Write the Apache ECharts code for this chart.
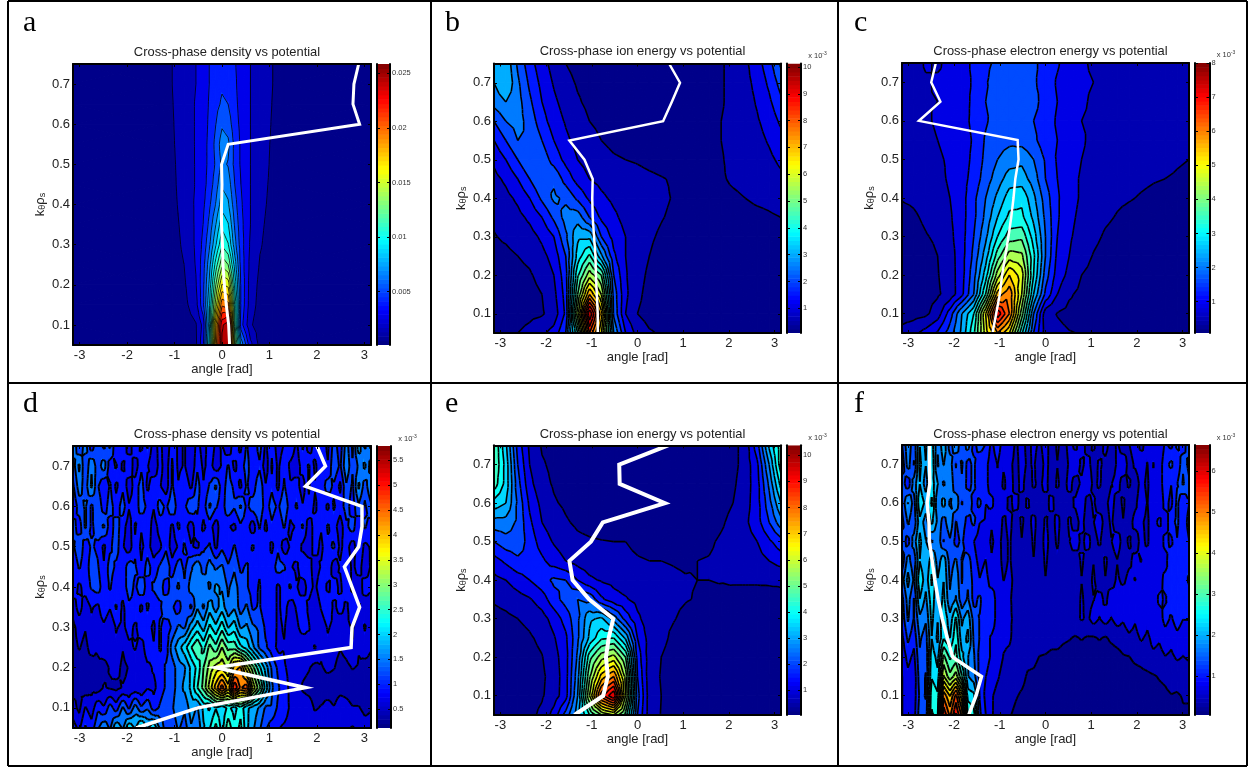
<!DOCTYPE html>
<html><head><meta charset="utf-8">
<style>html,body{margin:0;padding:0;background:#fff}#c{width:1248px;height:767px}</style>
<script src="https://cdn.jsdelivr.net/npm/echarts@6/dist/echarts.min.js"></script>
</head><body><div id="c"></div>
<script>
// ---------- data ----------
const kRows=[.75,.7,.65,.6,.55,.5,.45,.4,.35,.3,.25,.2,.15,.1,.05];
const anglesNarrow=[-3.14,-1.3,-1.05,-.8,-.55,-.4,-.27,-.13,0,.13,.27,.4,.6,.8,1.07,1.3,3.14];
const anglesFull=[-3.14,-2.88,-2.62,-2.36,-2.09,-1.83,-1.57,-1.31,-1.05,-.79,-.52,-.26,0,.26,.52,.79,1.05,1.31,1.57,1.83,2.09,2.36,2.62,2.88,3.14];
const anglesFine=[-3.14,-3.01,-2.88,-2.75,-2.62,-2.49,-2.36,-2.23,-2.09,-1.96,-1.83,-1.70,-1.57,-1.44,-1.31,-1.18,-1.05,-.92,-.79,-.65,-.52,-.39,-.26,-.13,0,.13,.26,.39,.52,.65,.79,.92,1.05,1.18,1.31,1.44,1.57,1.70,1.83,1.96,2.09,2.23,2.36,2.49,2.62,2.75,2.88,3.01,3.14];
const lineKs=[.75,.7,.65,.6,.55,.5,.45,.4,.35,.3,.25,.2,.15,.1,.05];

const densityA=[
[.4,.8,1.3,1.9,2.6,3.2,3.9,4.5,4.9,4.7,4.0,3.4,2.6,1.9,1.3,.8,.4],
[.4,.8,1.3,1.9,2.6,3.2,3.9,4.6,5.0,4.8,4.1,3.4,2.6,1.9,1.3,.8,.4],
[.4,.8,1.25,1.9,2.7,3.3,4.0,4.8,5.4,5.2,4.2,3.5,2.6,1.9,1.25,.8,.4],
[.4,.75,1.2,1.9,2.7,3.3,4.1,5.2,6.3,5.9,4.4,3.6,2.6,1.9,1.2,.75,.4],
[.4,.7,1.15,1.9,2.7,3.4,4.2,5.6,7.2,6.8,4.8,3.7,2.6,1.8,1.15,.7,.4],
[.4,.7,1.1,1.8,2.7,3.4,4.2,5.4,6.8,6.4,4.8,3.7,2.6,1.8,1.1,.7,.4],
[.4,.65,1.05,1.8,2.7,3.4,4.4,5.9,7.6,7.2,5.2,3.9,2.6,1.7,1.05,.65,.4],
[.35,.6,1.0,1.7,2.8,3.6,4.9,6.6,8.6,8.0,5.7,4.1,2.6,1.6,1.0,.6,.35],
[.35,.55,.9,1.6,2.8,3.9,5.5,7.8,10,9.2,6.3,4.3,2.6,1.5,.9,.55,.35],
[.3,.5,.8,1.5,2.8,4.2,6.2,9,11.5,10.5,7,4.5,2.4,1.4,.8,.5,.3],
[.3,.45,.7,1.3,2.7,4.6,7.2,11,14,13,8.5,4.7,2.2,1.2,.7,.45,.3],
[.3,.4,.6,1.1,2.5,4.8,8,13,17,16.5,10,5,2,1,.6,.4,.3],
[.25,.35,.5,.9,2.1,4.8,8.8,15,20.5,20,11.5,5,1.9,.85,.5,.35,.25],
[.25,.3,.4,.6,1.2,3,8.5,18,24.5,25.5,12,4.5,1.5,.6,.4,.3,.25],
[.2,.3,.4,.6,1.1,3.5,9.5,19,25,25.5,14,7.5,3,.9,.4,.3,.2]];

const ionEnergyB=[
[3.2,3.4,2.4,1.7,1.2,.8,.5,.35,.3,.3,.3,.3,.3,.3,.3,.3,.3,.3,.35,.45,.65,.9,1.3,1.8,2.6],
[3.0,3.5,2.6,1.9,1.35,.95,.65,.45,.35,.3,.3,.3,.3,.3,.3,.3,.3,.3,.35,.45,.65,.85,1.15,1.6,2.2],
[2.7,3.0,2.7,2.1,1.5,1.1,.8,.55,.4,.35,.3,.3,.3,.3,.3,.3,.3,.3,.35,.45,.65,.8,1.05,1.4,1.9],
[2.0,2.5,2.7,2.3,1.7,1.25,.95,.7,.5,.4,.35,.3,.3,.3,.3,.3,.3,.3,.35,.5,.65,.75,.95,1.2,1.6],
[1.5,2.0,2.5,2.5,2.0,1.5,1.1,.85,.65,.5,.4,.35,.3,.3,.3,.3,.3,.3,.35,.5,.6,.7,.85,1.05,1.3],
[1.1,1.5,2.0,2.5,2.3,1.8,1.35,1.0,.8,.65,.55,.5,.47,.42,.38,.33,.3,.33,.38,.47,.6,.65,.75,.9,1.1],
[.85,1.1,1.5,2.0,2.5,2.4,1.8,1.3,1.0,.85,.72,.65,.6,.56,.52,.47,.4,.38,.4,.46,.55,.6,.65,.75,.9],
[.65,.85,1.1,1.5,2.1,2.6,2.4,1.9,1.4,1.1,.9,.75,.65,.6,.56,.48,.4,.36,.36,.4,.44,.5,.58,.62,.7],
[.55,.65,.85,1.1,1.5,2.1,2.7,2.8,2.0,1.4,1.1,.85,.7,.6,.52,.44,.36,.32,.32,.32,.32,.34,.38,.44,.5],
[.48,.55,.65,.8,1.1,1.5,2.4,3.4,3.4,2.0,1.3,1.0,.7,.55,.45,.35,.3,.3,.3,.3,.3,.3,.3,.3,.3],
[.4,.42,.5,.6,.85,1.2,2.0,3.7,4.6,3.1,1.6,1.0,.7,.5,.38,.3,.3,.3,.3,.3,.3,.3,.3,.3,.3],
[.3,.33,.38,.45,.65,1.0,1.8,4.4,5.8,5.0,2.0,1.05,.65,.42,.33,.3,.3,.3,.3,.3,.3,.3,.3,.3,.3],
[.25,.28,.3,.35,.5,.85,1.7,5.0,7.5,6.0,2.3,1.1,.6,.35,.3,.3,.3,.3,.3,.3,.3,.3,.3,.3,.3],
[.25,.28,.3,.38,.45,.7,1.6,5.8,10,7.2,2.4,1.0,.5,.32,.3,.3,.3,.3,.3,.3,.3,.3,.3,.3,.3],
[.4,.4,.5,.65,.9,1.2,2.0,4.5,8.5,6.5,3.0,1.5,.8,.55,.45,.32,.3,.3,.3,.3,.3,.3,.3,.3,.3]];

const electronEnergyC=[
[.55,.6,.85,.75,.9,1.0,1.3,1.5,1.7,1.8,1.75,1.7,1.4,1.25,.95,.85,.75,.7,.65,.55,.55,.55,.5,.5,.55],
[.6,.7,.75,.85,.85,1.05,1.25,1.55,1.85,1.65,1.85,1.65,1.45,1.15,1,.85,.8,.65,.6,.55,.55,.5,.55,.5,.5],
[.55,.65,.8,.8,.9,1,1.3,1.6,1.7,1.9,1.7,1.75,1.4,1.2,.95,.85,.75,.7,.6,.6,.5,.55,.5,.5,.55],
[.5,.6,.75,.85,.85,1.05,1.3,1.55,1.8,1.85,1.8,1.6,1.4,1.15,1,.8,.75,.7,.6,.55,.55,.5,.5,.55,.5],
[.5,.55,.7,.8,.9,1,1.25,1.65,1.85,1.9,1.85,1.7,1.35,1.2,.95,.85,.7,.65,.6,.55,.5,.55,.5,.45,.5],
[.48,.52,.65,.75,.85,1.0,1.3,1.7,2.0,2.2,2.3,2.0,1.55,1.15,1,.8,.7,.6,.55,.5,.5,.48,.45,.42,.4],
[.45,.5,.6,.7,.85,1.05,1.35,1.8,2.2,2.6,2.6,2.2,1.6,1.2,.95,.75,.65,.55,.5,.48,.45,.42,.4,.38,.36],
[.42,.45,.52,.65,.8,1.05,1.5,2.0,2.5,3.0,3.1,2.5,1.8,1.25,.95,.75,.6,.52,.45,.42,.38,.34,.32,.3,.3],
[.3,.36,.45,.55,.75,1.05,1.5,2.1,2.8,3.3,3.3,2.7,1.9,1.25,.9,.7,.55,.45,.38,.32,.3,.28,.28,.28,.28],
[.25,.3,.38,.45,.7,1.05,1.6,2.3,3.2,3.8,3.9,3.0,2.0,1.2,.85,.65,.48,.36,.3,.28,.25,.25,.25,.25,.25],
[.22,.25,.3,.4,.62,1.05,1.7,2.6,3.8,4.6,4.5,3.3,2.0,1.1,.8,.55,.38,.28,.25,.25,.25,.25,.25,.25,.25],
[.2,.22,.28,.38,.6,1.05,1.85,3.0,4.6,5.6,5.0,3.2,1.8,1.0,.7,.4,.3,.25,.25,.25,.25,.25,.25,.25,.25],
[.2,.22,.28,.35,.55,1.1,2.0,3.6,5.8,6.3,4.8,2.8,1.5,.8,.45,.3,.25,.25,.25,.25,.25,.25,.25,.25,.25],
[.2,.25,.32,.6,1.4,2.4,3.2,5.2,7.5,6.4,4.2,2.0,.55,.38,.28,.25,.25,.25,.25,.25,.25,.25,.25,.25,.25],
[.55,.7,.95,1.25,1.8,2.5,3.5,5.0,6.0,5.2,3.3,1.6,.6,.5,.42,.38,.35,.32,.3,.3,.3,.3,.3,.35,.4]];

const densityD=[
[1.7,1.2,1.6,1.0,1.4,1.1,1.5,.9,1.1,.7,1.1,.8,1.2,.7,1.0,.6,1.1,.8,.9,.6,1.0,.7,1.1,.8,.9,.6,1.1,.8,1.2,.9,1.3,.8,1.1,.7,.9,1.1,.8,1.2,.7,1.0,1.1,.8,1.3,1.0,1.6,1.1,1.9,1.4,1.8],
[1.3,1.8,1.2,1.7,1.3,1.6,1.0,1.2,.8,1.1,.7,1.1,.9,.6,1.0,.7,1.2,.8,.9,.6,1.1,.8,1.0,.7,.9,1.2,.8,1.0,1.3,.9,1.1,.7,1.2,.8,1.1,.8,.7,1.0,1.2,.8,1.1,.9,1.4,1.1,1.7,1.2,1.5,1.8,1.3],
[1.1,1.6,1.3,1.8,1.2,.9,1.2,.8,1.1,.7,1.0,1.3,.8,1.1,.9,.7,1.2,.9,1.1,.8,1.3,.9,1.2,1.5,1.0,1.3,1.1,.8,1.2,1.0,1.4,.9,1.1,.8,1.2,.9,1.0,.7,1.2,.9,1.0,1.3,1.1,.8,1.4,1.1,1.8,1.3,1.7],
[.9,1.3,1.5,1.1,1.4,1.0,1.3,1.0,1.3,.9,1.0,1.3,1.1,.9,1.3,1.1,1.4,1.0,1.1,1.4,1.2,1.0,1.5,1.2,1.0,1.4,1.2,1.5,1.1,1.3,1.4,1.0,1.3,1.1,1.4,1.0,1.2,.9,1.1,.8,1.1,.8,1.2,1.0,1.3,1.0,1.4,1.1,1.4],
[1.3,1.0,1.5,1.1,1.3,1.5,1.0,1.3,1.0,.7,1.2,.9,1.1,.7,1.0,1.1,.8,1.2,1.0,.7,1.1,.8,1.0,.7,1.1,.9,.8,1.1,1.0,.7,1.2,.8,1.1,.9,1.2,.8,.9,1.2,.7,1.0,.9,1.2,1.0,.7,1.1,1.3,.9,1.2,1.0],
[1.1,1.4,1.0,1.2,1.1,.8,1.1,1.3,.9,.7,1.1,.8,1.0,.7,.8,1.1,.7,.9,1.2,.9,.8,1.1,1.2,.8,1.1,.9,1.2,.9,1.0,1.2,.9,1.1,.8,1.1,.7,.9,1.1,.8,.7,1.0,.8,1.1,1.2,.8,1.0,.7,1.1,.8,.9],
[.9,1.2,1.0,1.3,1.2,.9,1.3,1.1,1.0,1.3,1.2,.9,1.3,1.0,1.2,1.4,1.0,1.3,1.1,1.4,1.7,1.3,1.6,1.4,1.5,1.2,1.4,1.1,1.2,1.0,1.1,.9,1.0,1.3,1.2,.9,.8,1.1,1.0,.7,.9,1.1,.7,.9,1.1,.8,1.0,.7,.9],
[1.1,.8,1.0,1.2,1.3,1.0,1.2,.9,1.0,1.3,1.1,1.4,1.0,1.2,1.3,1.0,1.3,1.5,1.2,1.6,1.5,1.7,1.4,1.8,1.7,1.4,1.6,1.3,1.2,1.0,1.2,.9,1.1,.8,1.0,1.2,.9,.7,1.0,.8,1.1,.8,1.0,.8,1.1,.8,.7,1.0,.9],
[.7,1.0,.7,.9,.8,1.1,.9,1.2,.8,1.1,1.1,.8,1.2,1.0,1.1,1.4,1.2,1.0,1.4,1.1,1.7,1.4,1.9,1.6,1.9,1.5,1.7,1.3,1.5,1.1,1.2,.9,1.1,.8,1.0,.7,.9,1.1,.8,.6,.9,1.1,.8,1.0,.8,1.1,.9,.7,.8],
[.5,.7,.6,.8,.7,.8,.6,.9,.8,1.0,.8,1.1,1.0,.8,1.2,1.0,1.2,1.5,1.4,1.9,2.2,1.9,2.4,2.1,2.5,2.0,2.2,1.7,1.8,1.5,1.4,1.1,1.1,.8,.9,.7,.8,1.0,.9,.6,.7,.9,.8,.6,.8,.9,.7,.9,.7],
[.5,.6,.5,.7,.6,.7,.7,.8,.6,.8,.9,.7,1.1,.9,1.2,1.0,1.6,1.9,2.2,2.6,2.9,2.5,3.0,2.7,3.2,2.8,2.8,2.4,2.2,1.8,1.4,1.2,1.0,.8,.85,.7,.7,.6,.75,.9,.65,.8,.7,.6,.7,.85,.6,.75,.6],
[.4,.45,.5,.4,.55,.5,.6,.7,.5,.6,.7,.6,.8,.9,1.0,1.2,1.3,1.6,1.7,2.1,2.4,2.9,3.3,3.6,3.7,3.4,4.2,4.4,3.6,3.0,2.4,1.9,1.4,1.1,.9,.8,.7,.65,.6,.5,.55,.65,.6,.45,.5,.6,.55,.45,.5],
[.45,.55,.4,.5,.45,.6,.55,.5,.6,.65,.7,.65,.85,.8,1.0,1.2,1.3,1.6,1.8,2.1,2.6,3.0,3.6,4.2,4.8,4.2,5.2,4.6,4.8,3.7,3.0,2.2,1.5,1.2,1.0,.8,.7,.55,.5,.45,.45,.4,.4,.45,.45,.4,.4,.45,.4],
[.7,.5,.9,.7,1.1,.9,1.3,1.0,1.5,1.1,1.6,1.2,1.4,1.0,1.2,1.4,1.4,1.7,1.5,1.9,1.7,2.1,2.0,2.3,2.1,2.4,2.2,2.5,2.1,1.9,1.7,1.4,1.4,1.1,1.1,.8,.8,.7,.7,.55,.6,.7,.6,.8,.7,.6,.6,.5,.55],
[1.0,.8,1.2,1.0,1.4,1.7,1.4,2.0,1.7,2.3,2.0,2.5,2.0,2.3,1.7,1.3,1.2,1.5,1.3,1.7,1.5,2.0,2.3,2.7,2.2,2.8,2.4,2.7,2.1,1.8,1.5,1.2,1.0,.9,.8,.7,.7,.6,.6,.8,.7,.6,.8,.7,.8,.9,.8,.7,.7]];

const ionEnergyE=[
[5.0,3.6,1.8,.9,.45,.35,.3,.3,.3,.3,.3,.3,.3,.3,.3,.3,.3,.3,.3,.3,.35,.7,1.8,3.6,4.8],
[5.0,3.8,2.0,1.0,.55,.4,.3,.3,.3,.3,.3,.3,.3,.3,.3,.3,.3,.3,.3,.3,.35,.7,1.4,3.0,4.8],
[4.8,3.8,2.2,1.15,.65,.45,.32,.3,.3,.3,.3,.3,.3,.3,.3,.3,.3,.3,.3,.35,.42,.75,1.3,2.6,4.2],
[3.8,3.5,2.4,1.4,.85,.55,.42,.3,.3,.3,.3,.3,.3,.3,.3,.3,.3,.3,.3,.38,.5,.8,1.3,2.3,3.5],
[2.8,2.8,2.4,1.6,1.0,.75,.55,.42,.35,.3,.3,.3,.3,.3,.3,.3,.3,.3,.35,.45,.6,.9,1.3,2,2.8],
[2.0,2.3,2.3,1.8,1.25,.95,.75,.6,.55,.52,.5,.5,.45,.42,.4,.4,.4,.42,.45,.55,.65,.8,1.0,1.4,1.8],
[1.3,1.6,1.9,1.9,1.6,1.25,1.0,.8,.7,.62,.58,.55,.52,.5,.5,.48,.46,.5,.52,.58,.62,.7,.8,1.0,1.2],
[.85,1.0,1.25,1.5,1.8,2.1,2.0,1.5,1.1,.95,.85,.75,.68,.62,.58,.55,.52,.5,.5,.52,.55,.55,.55,.55,.55],
[.55,.65,.8,.95,1.25,1.8,2.2,2.5,2.4,1.6,1.2,1.05,.85,.7,.62,.56,.52,.48,.45,.4,.35,.35,.35,.38,.42],
[.35,.4,.5,.6,.8,1.2,1.7,2.4,3.4,3.6,2.8,1.8,1.1,.75,.6,.52,.42,.33,.3,.3,.3,.3,.3,.3,.3],
[.28,.3,.36,.45,.6,.95,1.4,2.4,3.6,4.4,4.5,3.4,1.5,.8,.6,.42,.33,.3,.3,.3,.3,.3,.3,.3,.3],
[.25,.27,.3,.36,.48,.8,1.3,2.6,4.8,5.8,6.2,5.0,1.8,.75,.5,.35,.3,.3,.3,.3,.3,.3,.3,.3,.3],
[.25,.27,.3,.33,.42,.7,1.3,2.8,5.4,7.2,8.0,5.8,2.0,.7,.47,.3,.3,.3,.3,.3,.3,.3,.3,.3,.3],
[.25,.27,.3,.33,.45,.75,1.3,3.0,6.0,8.8,10.0,6.0,2.2,.75,.5,.3,.3,.3,.3,.3,.3,.3,.3,.3,.3],
[.25,.27,.3,.38,.6,1.2,2.2,3.3,4.5,5.5,6.0,4.8,2.0,.75,.48,.3,.3,.3,.3,.3,.3,.3,.3,.3,.3]];

const electronEnergyF=[
[1.3,1.9,1.4,2.3,1.9,2.5,1.7,2.2,1.5,1.9,1.4,1.8,1.2,1.5,1.3,.9,1.2,.8,.9,.6,.8,.55,.75,.6,.8,.5,.7,.55,.75,.6,.8,.55,.7,.5,.75,.55,.7,.5,.65,.8,.6,.75,.9,.7,1.05,.9,1.4,1.1,1.6],
[1.1,1.8,1.3,2.4,2.0,2.6,1.6,2.0,1.8,1.3,1.7,1.2,1.4,1.0,1.1,.8,1.0,.7,.75,.55,.8,.6,.7,.5,.75,.55,.65,.5,.7,.85,.6,.75,.55,.7,.6,.5,.7,.85,.55,.7,.8,.65,1.0,.8,1.2,1.4,1.0,1.6,1.2],
[1.5,1.1,1.8,2.3,1.8,2.5,2.0,1.6,1.9,1.4,1.6,1.2,1.4,1.0,1.1,.8,.95,.6,.8,.55,.75,.5,.7,.6,.75,.5,.7,.55,.75,.55,.7,.85,.6,.7,.5,.65,.75,.55,.7,.5,.75,.6,.95,.8,1.2,1.0,1.3,1.7,1.4],
[1.4,2.0,1.5,2.6,2.2,2.7,1.7,2.1,1.6,1.9,1.3,1.6,1.2,1.4,1.0,1.1,.7,.8,.6,.75,.55,.7,.5,.65,.55,.75,.5,.65,.55,.7,.85,.55,.7,.5,.6,.75,.55,.7,.5,.6,.8,.65,.9,.75,1.1,.9,1.4,1.0,1.3],
[1.2,1.7,1.4,2.2,1.8,2.4,1.9,1.5,1.9,1.3,1.5,1.2,1.4,1.0,.95,.7,.9,.6,.75,.5,.7,.55,.75,.5,.7,.55,.75,.5,.7,.55,.75,.5,.65,.8,.55,.7,.5,.65,.55,.75,.7,.6,.9,1.05,.8,1.2,1.4,1.0,1.5],
[1.5,1.2,1.8,2.4,2.0,1.6,1.9,1.3,1.6,1.2,1.4,1.0,1.0,.8,.85,.6,.8,.55,.7,.5,.65,.5,.7,.5,.75,.55,.7,.5,.65,.8,.6,.75,.55,.7,.5,.65,.8,.55,.7,.5,.75,.6,.95,.75,1.1,.9,1.3,1.0,1.3],
[1.1,1.8,1.4,2.3,2.0,2.5,1.8,2.2,1.5,1.7,1.3,1.5,1.1,.9,1.0,.7,.85,.55,.7,.5,.6,.5,.65,.5,.7,.55,.6,.5,.65,.5,.7,.55,.65,.5,.7,.55,.65,.5,.6,.75,.65,.85,.75,.95,.85,1.3,1.0,1.3,1.1],
[1.5,2.1,1.6,2.6,2.1,2.7,2.0,2.3,1.6,1.9,1.3,1.6,1.2,1.0,1.1,.85,.9,.65,.75,.55,.6,.5,.6,.5,.65,.5,.6,.5,.6,.5,.65,.55,.7,.5,.65,.55,.7,.6,.75,.65,.8,.7,.95,.85,1.1,1.0,1.3,1.0,1.4],
[1.2,1.8,1.3,2.3,1.9,2.5,2.0,2.4,1.7,2.0,1.4,1.7,1.2,1.4,1.0,1.2,.85,.95,.7,.55,.65,.5,.6,.5,.6,.5,.6,.5,.65,.5,.7,.55,.65,.75,.6,.8,.7,.85,.75,.9,.8,.95,.8,1.05,.95,1.2,1.0,1.2,1.05],
[1.1,1.7,1.3,1.9,1.7,2.4,2.0,2.6,2.1,2.7,1.9,2.2,1.5,1.3,1.1,1.2,.85,.95,.7,.6,.6,.5,.6,.5,.55,.5,.55,.5,.6,.55,.7,.6,.8,.65,.8,.65,.8,.7,.85,.7,.9,.75,.95,.85,1.1,.95,1.15,1.0,1.0],
[.9,1.4,1.1,1.7,1.5,2.3,1.9,2.6,2.3,2.9,2.1,2.4,1.6,1.3,1.1,.95,.85,.7,.7,.55,.6,.5,.55,.5,.5,.45,.45,.38,.35,.3,.35,.3,.3,.35,.3,.38,.45,.5,.6,.55,.7,.6,.75,.7,.85,.75,.9,.8,.9],
[.75,1.1,.9,1.6,1.4,2.5,2.2,3.4,2.9,3.1,2.4,2.0,1.7,1.2,1.1,.95,.8,.65,.6,.5,.5,.4,.4,.32,.3,.25,.25,.22,.2,.2,.2,.2,.2,.2,.2,.2,.22,.3,.32,.4,.45,.55,.6,.55,.65,.6,.7,.65,.7],
[.65,.9,.75,1.5,1.3,2.6,2.4,4.0,3.4,3.8,3.0,2.0,1.8,1.2,1.0,.85,.7,.55,.5,.42,.4,.3,.28,.22,.2,.18,.18,.18,.18,.18,.18,.18,.18,.18,.18,.18,.18,.18,.18,.2,.22,.25,.3,.35,.38,.45,.45,.5,.5],
[.65,.85,.8,1.4,1.3,2.9,2.7,5.2,4.6,5.4,4.4,2.5,2.4,1.3,.9,.7,.55,.48,.42,.35,.3,.25,.2,.18,.17,.16,.16,.16,.16,.16,.16,.16,.16,.16,.16,.16,.16,.16,.16,.16,.18,.2,.22,.25,.28,.32,.3,.35,.35],
[.65,.8,.85,1.5,1.4,3.0,2.9,5.9,5.2,6.0,5.2,3.0,2.8,1.4,1.0,.7,.52,.42,.35,.28,.22,.19,.17,.16,.16,.15,.15,.15,.15,.15,.15,.15,.15,.15,.15,.15,.15,.15,.15,.15,.15,.15,.15,.17,.17,.2,.22,.3,.3]];

const peakAngleA=[2.88,2.78,2.76,2.9,.13,-.01,0,-.01,-.01,.01,.02,.05,.09,.14,.16];
const peakAngleB=[.69,.93,.75,.56,-1.49,-1.16,-.98,-.99,-.98,-.95,-.92,-.91,-.89,-.87,-.87];
const peakAngleC=[-2.4,-2.5,-2.3,-2.77,-.61,-.59,-.66,-.7,-.75,-.81,-.88,-.95,-1,-1.08,-1.16];
const peakAngleD=[2,2.18,1.76,2.95,2.95,2.88,2.58,2.74,2.9,2.74,2.72,-.13,1.76,-.51,-1.81];
const peakAngleE=[.67,-.4,-.39,.6,-.76,-1.02,-1.49,-1.42,-1.06,-.53,-.63,-.69,-.65,-.75,-1.38];
const peakAngleF=[-2.54,-2.54,-2.53,-2.59,-2.55,-2.54,-2.48,-2.42,-2.35,-2.26,-2.15,-2.03,-1.4,-1.52,-1.68];

const angleTicks=[-3,-2,-1,0,1,2,3];
const kTicks=[.1,.2,.3,.4,.5,.6,.7];
const cbTicksA=[5,10,15,20,25];
const cbTicksB=[1,2,3,4,5,6,7,8,9,10];
const cbTicksC=[1,2,3,4,5,6,7,8];
const cbTicksD=[.5,1,1.5,2,2.5,3,3.5,4,4.5,5,5.5];
const cbTicksE=[1,2,3,4,5,6,7,8,9,10];
const cbTicksF=[1,2,3,4,5,6];
const titles=['Cross-phase density vs potential','Cross-phase ion energy vs potential','Cross-phase electron energy vs potential',
              'Cross-phase density vs potential','Cross-phase ion energy vs potential','Cross-phase electron energy vs potential'];
const letters=['a','b','c','d','e','f'];
const angleName='angle [rad]';
const kName='k{sub|\u03b8}\u03c1{sub|s}';

// ---------- layout and scales ----------
const panels=[
 {v:densityA,xs:anglesNarrow,line:peakAngleA,ticks:cbTicksA,lo:.12,hi:25.85,step:1.3,exp:false,
  box:[73,64,298,281],cb:[377,64,13,281],lx:23,ly:34,lw:3,cw:.8,ty:44},
 {v:ionEnergyB,xs:anglesFull,line:peakAngleB,ticks:cbTicksB,lo:.08,hi:10.13,step:.5,exp:true,
  box:[494,63.5,287,269.5],cb:[787,63.5,14,269.5],lx:445,ly:34,lw:2.5,cw:1.6,ty:43},
 {v:electronEnergyC,xs:anglesFull,line:peakAngleC,ticks:cbTicksC,lo:.08,hi:8,step:.4,exp:true,
  box:[902,63,287,270],cb:[1195,63,14.5,270],lx:854,ly:34,lw:2.5,cw:1.6,ty:43},
 {v:densityD,xs:anglesFine,line:peakAngleD,ticks:cbTicksD,lo:.12,hi:5.79,step:.29,exp:true,
  box:[73,446,298,282],cb:[377,446,14,282],lx:23,ly:415,lw:3.5,cw:1.9,ty:426},
 {v:ionEnergyE,xs:anglesFull,line:peakAngleE,ticks:cbTicksE,lo:.06,hi:10.38,step:.5,exp:true,
  box:[494,445.3,287,269.7],cb:[787,445.3,14,269.7],lx:445,ly:415,lw:4,cw:1.6,ty:426},
 {v:electronEnergyF,xs:anglesFine,line:peakAngleF,ticks:cbTicksF,lo:.06,hi:6.64,step:.33,exp:true,
  box:[902,445,287,270],cb:[1195,445,14.5,270],lx:854,ly:415,lw:3.5,cw:1.9,ty:426}
];
const sans='"Liberation Sans",Arial,sans-serif';
const EPS=1e-6;
function jet(t){
  const c=a=>Math.round(255*Math.max(0,Math.min(1,1.5-Math.abs(4*t-a))));
  return 'rgb('+c(3)+','+c(2)+','+c(1)+')';
}
function colorOf(p,level){return jet(.01+.98*Math.max(0,(Math.max(level,p.lo)-p.lo)/(p.hi-p.lo)));}

function clip(poly,level,keepAbove){
  const out=[];
  for(let i=0;i<poly.length;i++){
    const a=poly[i],b=poly[(i+1)%poly.length];
    const ina=keepAbove?a[2]>=level:a[2]<=level, inb=keepAbove?b[2]>=level:b[2]<=level;
    if(ina)out.push(a);
    if(ina!==inb){const f=(level-a[2])/(b[2]-a[2]);out.push([a[0]+f*(b[0]-a[0]),a[1]+f*(b[1]-a[1]),level]);}
  }
  return out;
}
function triangles(p,i,j){
  const x0=p.xs[j],x1=p.xs[j+1],y0=kRows[i],y1=kRows[i+1];
  const A=[x0,y0,p.v[i][j]],B=[x1,y0,p.v[i][j+1]],C=[x1,y1,p.v[i+1][j+1]],D=[x0,y1,p.v[i+1][j]];
  const M=[(x0+x1)/2,(y0+y1)/2,(A[2]+B[2]+C[2]+D[2])/4];
  return [[A,B,M],[B,C,M],[C,D,M],[D,A,M]];
}
function fillItem(p){return (params,api)=>{
  const i=api.value(0),j=api.value(1);const kids=[];
  for(const tri of triangles(p,i,j)){
    const vs=tri.map(q=>q[2]),mn=Math.min(...vs),mx=Math.max(...vs);
    for(let n=Math.floor((mn-EPS)/p.step);n*p.step+EPS<=mx;n++){
      const lo=n*p.step+EPS;
      const poly=clip(clip(tri,lo,true),lo+p.step,false);
      if(poly.length<3)continue;
      const col=colorOf(p,n*p.step);
      kids.push({type:'polygon',silent:true,shape:{points:poly.map(q=>api.coord([q[0],q[1]]))},style:{fill:col,stroke:col,lineWidth:1.2}});
    }
  }
  return {type:'group',children:kids};
};}
function lineItem(p){return (params,api)=>{
  const i=api.value(0),j=api.value(1);const kids=[];
  for(const tri of triangles(p,i,j)){
    const vs=tri.map(q=>q[2]),mn=Math.min(...vs),mx=Math.max(...vs);
    for(let n=Math.ceil(mn/p.step);n*p.step<=mx;n++){
      const L=n*p.step+EPS;const pts=[];
      for(let e=0;e<3;e++){
        const a=tri[e],b=tri[(e+1)%3];
        if((a[2]-L)*(b[2]-L)<0){const f=(L-a[2])/(b[2]-a[2]);pts.push(api.coord([a[0]+f*(b[0]-a[0]),a[1]+f*(b[1]-a[1])]));}
      }
      if(pts.length===2)kids.push({type:'line',silent:true,shape:{x1:pts[0][0],y1:pts[0][1],x2:pts[1][0],y2:pts[1][1]},style:{stroke:'#000',lineWidth:p.cw}});
    }
  }
  return {type:'group',children:kids};
};}
function cbItem(p){return (params,api)=>{
  const n=api.value(0),N=64,d=(p.hi-p.lo)/N;
  const a=api.coord([0,p.lo+n*d]),b=api.coord([1,p.lo+(n+1)*d]);
  return {type:'rect',silent:true,shape:{x:a[0],y:b[1],width:b[0]-a[0],height:a[1]-b[1]+.6},style:{fill:jet((n+.5)/N)}};
};}

const grid=[],xAxis=[],yAxis=[],series=[],title=[],graphic=[];
const frameLine={show:true,onZero:false,lineStyle:{color:'#000',width:2}};
panels.forEach((p,pi)=>{
  const g=grid.length;
  grid.push({left:p.box[0],top:p.box[1],width:p.box[2],height:p.box[3]});
  grid.push({left:p.cb[0],top:p.cb[1],width:p.cb[2],height:p.cb[3]});
  const xb=xAxis.length,yb=yAxis.length;
  const tick=(vals,len)=>({show:true,inside:true,length:len,customValues:vals,lineStyle:{color:'#000',width:1}});
  xAxis.push({gridIndex:g,type:'value',position:'bottom',min:-3.14,max:3.14,z:5,axisLine:frameLine,splitLine:{show:false},
    axisTick:tick(angleTicks,3),axisLabel:{show:true,customValues:angleTicks,margin:4,fontFamily:sans,fontSize:13,color:'#222'},
    name:angleName,nameLocation:'middle',nameGap:18,nameTextStyle:{fontFamily:sans,fontSize:13,color:'#222'}});
  xAxis.push({gridIndex:g,type:'value',position:'top',min:-3.14,max:3.14,z:5,axisLine:frameLine,splitLine:{show:false},
    axisTick:tick(angleTicks,3),axisLabel:{show:false}});
  xAxis.push({gridIndex:g+1,type:'value',min:0,max:1,show:false});
  yAxis.push({gridIndex:g,type:'value',position:'left',min:.05,max:.75,z:5,axisLine:frameLine,splitLine:{show:false},
    axisTick:tick(kTicks,3),axisLabel:{show:true,customValues:kTicks,margin:3,fontFamily:sans,fontSize:13,color:'#222'},
    name:kName,nameLocation:'middle',nameGap:26,nameTextStyle:{fontFamily:sans,fontSize:13,color:'#222',
      rich:{sub:{fontSize:9,fontFamily:sans,color:'#222',padding:[5,0,0,0]}}}});
  yAxis.push({gridIndex:g,type:'value',position:'right',min:.05,max:.75,z:5,axisLine:frameLine,splitLine:{show:false},
    axisTick:tick(kTicks,3),axisLabel:{show:false}});
  const cbVals=p.ticks;
  yAxis.push({gridIndex:g+1,type:'value',position:'right',min:p.lo,max:p.hi,z:5,axisLine:frameLine,splitLine:{show:false},
    axisTick:tick(cbVals,3),
    axisLabel:{show:true,customValues:cbVals,margin:2,fontFamily:sans,fontSize:7.5,color:'#333',
      formatter:v=>p.exp?String(v):String(+(v/1000).toFixed(3))},
    name:p.exp?'x 10{sup|-3}':'',nameLocation:'end',nameGap:3,
    nameTextStyle:{fontFamily:sans,fontSize:7.5,color:'#333',padding:[0,0,0,33],rich:{sup:{fontSize:5,fontFamily:sans,color:'#333',padding:[0,0,4,0]}}}});
  yAxis.push({gridIndex:g+1,type:'value',position:'left',min:p.lo,max:p.hi,z:5,axisLine:frameLine,splitLine:{show:false},
    axisTick:tick(cbVals,3),axisLabel:{show:false}});
  const cells=[];
  for(let i=0;i<kRows.length-1;i++)for(let j=0;j<p.xs.length-1;j++)cells.push([i,j]);
  const bands=[];for(let n=0;n<64;n++)bands.push([n]);
  series.push({type:'custom',xAxisIndex:xb,yAxisIndex:yb,data:cells,renderItem:fillItem(p),encode:{},silent:true,progressive:0,animation:false,z:2,clip:true});
  series.push({type:'custom',xAxisIndex:xb,yAxisIndex:yb,data:cells,renderItem:lineItem(p),encode:{},silent:true,progressive:0,animation:false,z:3,clip:true});
  series.push({type:'line',xAxisIndex:xb,yAxisIndex:yb,data:p.line.map((a,i)=>[a,lineKs[i]]),symbol:'none',lineStyle:{color:'#fff',width:p.lw,join:'miter'},silent:true,animation:false,z:4,clip:true});
  series.push({type:'custom',xAxisIndex:xb+2,yAxisIndex:yb+2,data:bands,renderItem:cbItem(p),encode:{},silent:true,progressive:0,animation:false,z:2,clip:true});
  title.push({text:titles[pi],left:p.box[0]+p.box[2]/2,top:p.ty-3,textAlign:'center',textStyle:{fontFamily:sans,fontSize:12.9,fontWeight:'normal',color:'#222'}});
  graphic.push({type:'text',left:p.lx,top:p.ly-26,style:{text:letters[pi],font:'30px "Liberation Serif",serif',fill:'#000'}});
});
[[8,1,8,766],[1247,1,1247,766],[8,1,1247,1],[8,766,1247,766],[431,1,431,766],[838,1,838,766],[8,383,1247,383]].forEach(s=>{
  graphic.push({type:'line',shape:{x1:s[0],y1:s[1],x2:s[2],y2:s[3]},style:{stroke:'#000',lineWidth:2},silent:true});
});

const chart=echarts.init(document.getElementById('c'),null,{renderer:'canvas',width:1248,height:767});
chart.setOption({animation:false,backgroundColor:'#fff',title,grid,xAxis,yAxis,series,graphic});
</script></body></html>
